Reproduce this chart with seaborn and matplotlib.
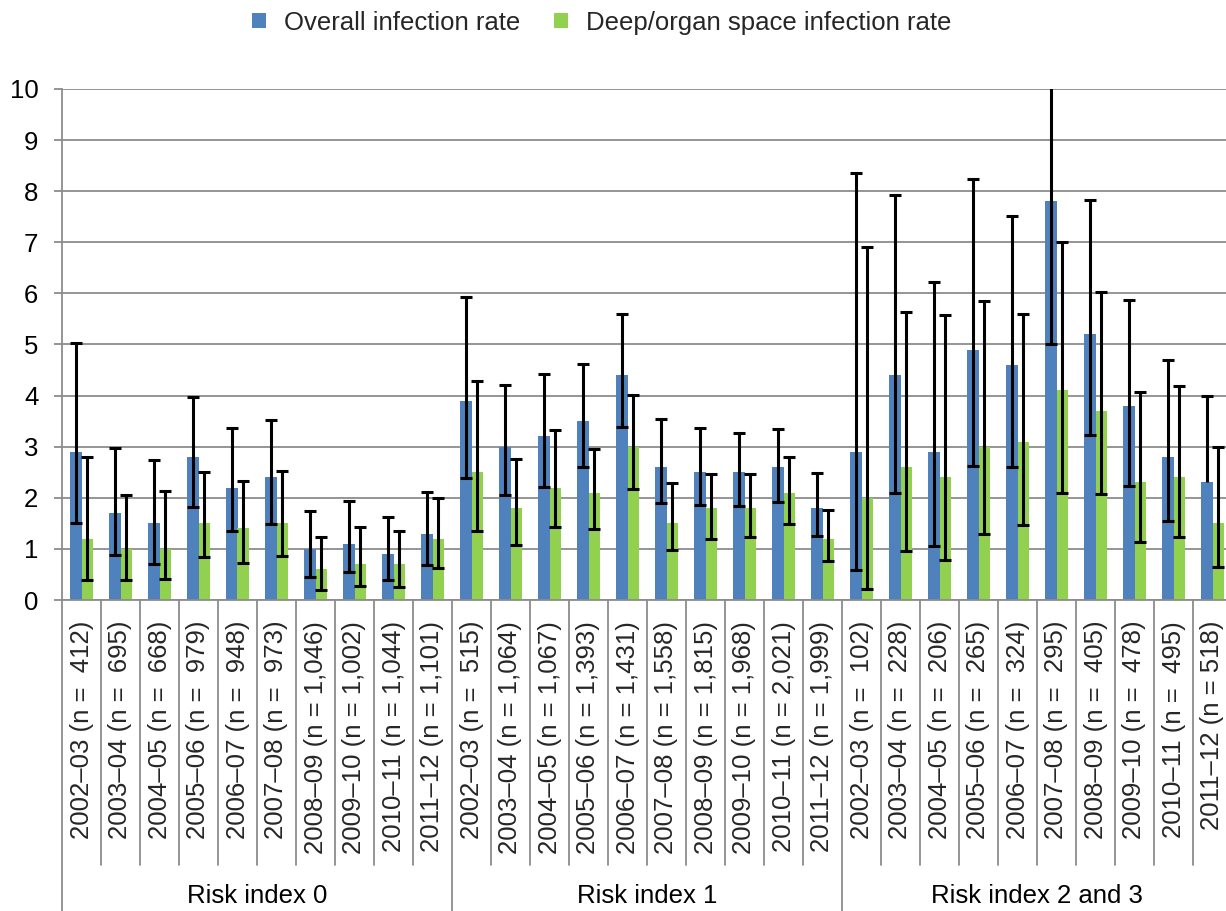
import numpy as np
import pandas as pd
import matplotlib
matplotlib.use("Agg")
import matplotlib.pyplot as plt
import seaborn as sns
from matplotlib.patches import Patch

# ---------------- data ----------------
groups = ["Risk index 0", "Risk index 1", "Risk index 2 and 3"]
periods = ["2002–03", "2003–04", "2004–05", "2005–06", "2006–07",
           "2007–08", "2008–09", "2009–10", "2010–11", "2011–12"]
n_ri0 = ["  412", "  695", "  668", "  979", "  948", "  973", " 1,046", " 1,002", " 1,044", " 1,101"]
n_ri1 = ["  515", " 1,064", " 1,067", " 1,393", " 1,431", " 1,558", " 1,815", " 1,968", " 2,021", " 1,999"]
n_ri23 = ["  102", "  228", "  206", "  265", "  324", "  295", "  405", "  478", "  495", " 518"]

series_names = ["Overall infection rate", "Deep/organ space infection rate"]

overall = [2.9, 1.7, 1.5, 2.8, 2.2, 2.4, 1.0, 1.1, 0.9, 1.3,
           3.9, 3.0, 3.2, 3.5, 4.4, 2.6, 2.5, 2.5, 2.6, 1.8,
           2.9, 4.4, 2.9, 4.9, 4.6, 7.8, 5.2, 3.8, 2.8, 2.3]
overall_lo = [1.51, 0.88, 0.71, 1.82, 1.36, 1.49, 0.45, 0.54, 0.39, 0.69,
              2.38, 2.06, 2.21, 2.61, 3.39, 1.89, 1.85, 1.84, 1.92, 1.26,
              0.59, 2.10, 1.06, 2.62, 2.60, 5.00, 3.23, 2.24, 1.54, np.nan]
overall_hi = [5.03, 2.98, 2.73, 3.98, 3.36, 3.52, 1.74, 1.94, 1.62, 2.11,
              5.93, 4.21, 4.42, 4.62, 5.59, 3.55, 3.36, 3.27, 3.35, 2.48,
              8.36, 7.92, 6.23, 8.24, 7.51, 10.6, 7.82, 5.88, 4.69, 4.00]

deep = [1.2, 1.0, 1.0, 1.5, 1.4, 1.5, 0.6, 0.7, 0.7, 1.2,
        2.5, 1.8, 2.2, 2.1, 3.0, 1.5, 1.8, 1.8, 2.1, 1.2,
        2.0, 2.6, 2.4, 3.0, 3.1, 4.1, 3.7, 2.3, 2.4, 1.5]
deep_lo = [0.39, 0.39, 0.41, 0.85, 0.72, 0.86, 0.20, 0.27, 0.26, 0.62,
           1.35, 1.07, 1.43, 1.39, 2.17, 0.98, 1.19, 1.23, 1.49, 0.76,
           0.22, 0.96, 0.78, 1.30, 1.47, 2.10, 2.07, 1.14, 1.24, 0.65]
deep_hi = [2.80, 2.05, 2.13, 2.50, 2.32, 2.52, 1.23, 1.42, 1.36, 2.00,
           4.28, 2.76, 3.32, 2.96, 4.01, 2.28, 2.47, 2.46, 2.80, 1.77,
           6.90, 5.63, 5.57, 5.85, 5.60, 7.00, 6.03, 4.07, 4.19, 3.00]

yticks = list(range(0, 11))

# ---------------- build table ----------------
labels = []
for ns in (n_ri0, n_ri1, n_ri23):
    for p, n in zip(periods, ns):
        labels.append(f"{p} (n ={n})")

df = pd.DataFrame({
    "label": labels * 2,
    "series": [series_names[0]] * len(labels) + [series_names[1]] * len(labels),
    "value": overall + deep,
})

BLUE = "#4F81BD"
GREEN = "#92D050"
GRID = "#8C8C8C"

sns.set_theme(style="white")
plt.rcParams["font.family"] = ["Liberation Sans", "DejaVu Sans"]
FS = 18.5

fig = plt.figure(figsize=(12.26, 9.11), dpi=100)
ax = fig.add_axes([62 / 1226, 311 / 911, 1170 / 1226, 511 / 911])

sns.barplot(data=df, x="label", y="value", hue="series", order=labels,
            hue_order=series_names, palette=[BLUE, GREEN], saturation=1,
            width=0.58, errorbar=None, legend=False, linewidth=0, ax=ax)

ax.set_xlim(-0.5, len(labels) - 0.5)
ax.set_ylim(0, 10)
ax.set_yticks(yticks)
ax.set_yticklabels([str(t) for t in yticks], fontsize=FS)
ax.set_xlabel("")
ax.set_ylabel("")
ax.yaxis.grid(True, color=GRID, linewidth=1.3)
ax.set_axisbelow(True)
for s in ["top", "right"]:
    ax.spines[s].set_visible(False)
for s in ["left", "bottom"]:
    ax.spines[s].set_color(GRID)
    ax.spines[s].set_linewidth(1.3)
ax.tick_params(axis="y", which="both", left=True, length=6, width=1.3,
               color=GRID, pad=11, labelcolor="black")
ax.tick_params(axis="x", bottom=False, pad=9)
ax.set_xticks(range(len(labels)))
ax.set_xticklabels(labels, rotation=90, fontsize=FS, ha="center", va="top")

# ---------------- error bars ----------------
bars = sorted(ax.patches, key=lambda p: p.get_x())
bars = [b for b in bars if b.get_width() > 0]
blue_bars = bars[0::2]
green_bars = bars[1::2]
capw = 0.155
for barset, vals, los, his in ((blue_bars, overall, overall_lo, overall_hi),
                               (green_bars, deep, deep_lo, deep_hi)):
    for b, v, lo, hi in zip(barset, vals, los, his):
        xc = b.get_x() + b.get_width() / 2
        start = v if np.isnan(lo) else lo
        ax.vlines(xc, start, hi, color="black", linewidth=2.2, zorder=5)
        ax.hlines(hi, xc - capw, xc + capw, color="black", linewidth=2.2, zorder=5)
        if not np.isnan(lo):
            ax.hlines(lo, xc - capw, xc + capw, color="black", linewidth=2.2, zorder=5)

# ---------------- category / group separators ----------------
trans = ax.get_xaxis_transform()
for i in range(len(labels) + 1):
    xb = i - 0.5
    if i % 10 == 0:
        ax.plot([xb, xb], [0, -0.63], color=GRID, linewidth=1.3,
                transform=trans, clip_on=False)
    else:
        ax.plot([xb, xb], [0, -0.519], color=GRID, linewidth=1.3,
                transform=trans, clip_on=False)

for gi, g in enumerate(groups):
    ax.text(gi * 10 + 4.5, -0.58, g, transform=trans, ha="center",
            va="center", fontsize=FS, color="black")

# ---------------- legend ----------------
handles = [Patch(facecolor=BLUE, edgecolor="none"),
           Patch(facecolor=GREEN, edgecolor="none")]
fig.legend(handles, series_names, loc="center", bbox_to_anchor=(0.491, 0.975),
           ncol=2, frameon=False, fontsize=FS, handlelength=0.55,
           handleheight=0.55, handletextpad=0.7, columnspacing=1.3)

fig.savefig("out.png", dpi=100)
